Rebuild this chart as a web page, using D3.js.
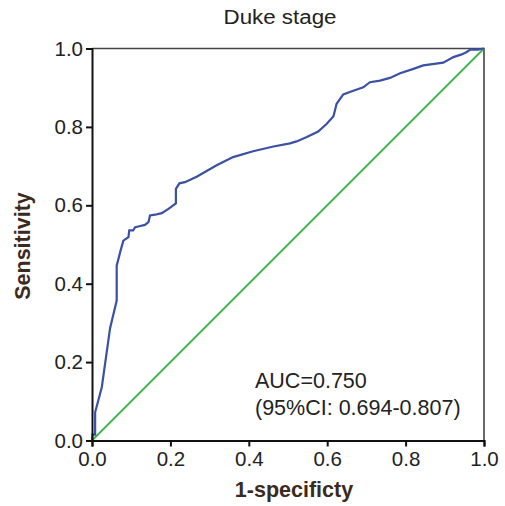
<!DOCTYPE html>
<meta charset="utf-8">
<style>
  body { margin: 0; background: #fff; }
  text { font-family: "Liberation Sans", Arial, sans-serif; }
</style>
<body>
<svg id="chart" width="505" height="506"></svg>
<script src="https://d3js.org/d3.v7.min.js"></script>
<script>

// ROC curve points
var fpr = [0, 0.001, 0.008, 0.008, 0.025, 0.046, 0.063, 0.063, 0.073, 0.080, 0.093, 0.095,
  0.105, 0.110, 0.118, 0.135, 0.144, 0.148, 0.161, 0.178, 0.195, 0.214, 0.214, 0.223, 0.237,
  0.267, 0.318, 0.360, 0.411, 0.463, 0.505, 0.522, 0.548, 0.577, 0.599, 0.616, 0.624, 0.641,
  0.663, 0.692, 0.709, 0.735, 0.760, 0.786, 0.820, 0.845, 0.896, 0.922, 0.943, 0.956, 0.965,
  0.985, 1];
var tpr = [0, 0.015, 0.015, 0.072, 0.136, 0.286, 0.357, 0.446, 0.485, 0.510, 0.519, 0.536,
  0.536, 0.544, 0.546, 0.550, 0.557, 0.574, 0.576, 0.580, 0.591, 0.605, 0.642, 0.656, 0.659,
  0.673, 0.702, 0.723, 0.738, 0.750, 0.758, 0.763, 0.774, 0.788, 0.808, 0.827, 0.859, 0.883,
  0.891, 0.901, 0.914, 0.918, 0.925, 0.937, 0.948, 0.957, 0.964, 0.978, 0.985, 0.991, 0.997,
  0.997, 1];
var ticks = [0, 0.2, 0.4, 0.6, 0.8, 1.0];
var title = "Duke stage";
var xTitle = "1-specificty";
var yTitle = "Sensitivity";
var notes = ["AUC=0.750", "(95%CI: 0.694-0.807)"];

var svg = d3.select("#chart");
var mLeft = 92, mRight = 484, mTop = 48.5, mBottom = 440.5;

var x = d3.scaleLinear().domain([0, 1]).range([mLeft, mRight]);
var y = d3.scaleLinear().domain([0, 1]).range([mBottom, mTop]);

// frame on top and right
svg.append("path")
  .attr("d", "M" + mLeft + "," + mTop + "H" + mRight + "V" + mBottom)
  .attr("fill", "none")
  .attr("stroke", "#444")
  .attr("stroke-width", 1.6);

// reference diagonal
svg.append("line")
  .attr("x1", x(0)).attr("y1", y(0))
  .attr("x2", x(1)).attr("y2", y(1))
  .attr("stroke", "#3db54a")
  .attr("stroke-width", 1.8);

var pts = fpr.map(function(d, i) { return [d, tpr[i]]; });
svg.append("path")
  .datum(pts)
  .attr("d", d3.line().x(d => x(d[0])).y(d => y(d[1])))
  .attr("fill", "none")
  .attr("stroke", "#3b51a3")
  .attr("stroke-width", 2.2);

var fmt = d3.format(".1f");

var xAxis = svg.append("g")
  .attr("transform", "translate(0," + mBottom + ")")
  .call(d3.axisBottom(x).tickValues(ticks).tickFormat(fmt).tickSize(6).tickPadding(3));
var yAxis = svg.append("g")
  .attr("transform", "translate(" + mLeft + ",0)")
  .call(d3.axisLeft(y).tickValues(ticks).tickFormat(fmt).tickSize(6).tickPadding(3));

[xAxis, yAxis].forEach(function(a) {
  a.select(".domain").attr("stroke", "#111").attr("stroke-width", 2);
  a.selectAll(".tick line").attr("stroke", "#111").attr("stroke-width", 2);
  a.selectAll(".tick text")
    .attr("fill", "#222")
    .style("font-size", "20.5px")
    .style("font-family", "'Liberation Sans', Arial, sans-serif");
});
xAxis.selectAll(".tick text").attr("dy", "0.8em");

svg.append("text")
  .attr("x", 280).attr("y", 24)
  .attr("text-anchor", "middle")
  .attr("fill", "#222")
  .style("font-size", "20px")
  .attr("textLength", 113).attr("lengthAdjust", "spacingAndGlyphs")
  .text(title);

svg.append("text")
  .attr("x", 294).attr("y", 497)
  .attr("text-anchor", "middle")
  .attr("fill", "#3a2a20")
  .style("font-size", "21.5px")
  .style("font-weight", "bold")
  .text(xTitle);

svg.append("text")
  .attr("transform", "translate(30,246) rotate(-90)")
  .attr("text-anchor", "middle")
  .attr("fill", "#3a2a20")
  .style("font-size", "21.5px")
  .style("font-weight", "bold")
  .text(yTitle);

svg.selectAll(".note")
  .data(notes)
  .enter().append("text")
  .attr("class", "note")
  .attr("x", 255)
  .attr("y", (d, i) => 388 + i * 27)
  .attr("fill", "#222")
  .style("font-size", "21.5px")
  .text(d => d);

</script>
</body>
